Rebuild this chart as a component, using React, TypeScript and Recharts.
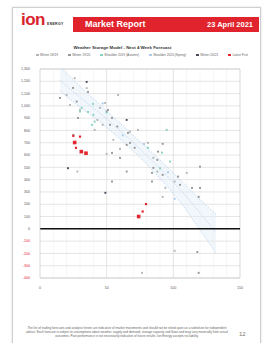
import React from "react";
import {
  ComposedChart,
  Scatter,
  Line,
  Area,
  XAxis,
  YAxis,
  CartesianGrid,
  ReferenceLine,
} from "recharts";

const FONT = "'Liberation Sans', Arial, sans-serif";

// x = weekly degree days, y = storage change (GWh)
const winter1819 = [
  { x: 26, y: 1225 }, { x: 35, y: 1144 }, { x: 20, y: 1089 }, { x: 58.5, y: 1089 },
  { x: 48.8, y: 1024 }, { x: 45, y: 984 }, { x: 22.5, y: 1008 }, { x: 30, y: 967 },
  { x: 43, y: 886 }, { x: 47, y: 846 }, { x: 67.5, y: 791 }, { x: 41, y: 805 },
  { x: 73.5, y: 805 }, { x: 55, y: 724 }, { x: 81, y: 699 }, { x: 60, y: 650 },
  { x: 50, y: 610 }, { x: 85, y: 577 }, { x: 28, y: 466 }, { x: 88, y: 466 },
  { x: 110, y: 455 }, { x: 101, y: 385 }, { x: 94, y: 333 }, { x: 92, y: 260 },
  { x: 101, y: -179 }, { x: 76.5, y: -358 },
];
const winter1920 = [
  { x: 24.8, y: 1146 }, { x: 15, y: 1065 }, { x: 36, y: 1114 }, { x: 27.5, y: 1035 },
  { x: 51, y: 967 }, { x: 50, y: 954 }, { x: 28.5, y: 902 }, { x: 54, y: 902 },
  { x: 25, y: 764 }, { x: 52.5, y: 846 }, { x: 58, y: 832 }, { x: 66, y: 780 },
  { x: 67.5, y: 699 }, { x: 65, y: 683 }, { x: 92, y: 691 }, { x: 71, y: 659 },
  { x: 88.5, y: 628 }, { x: 54, y: 618 }, { x: 60, y: 577 }, { x: 88, y: 561 },
  { x: 65, y: 466 }, { x: 85, y: 496 }, { x: 84, y: 455 }, { x: 92, y: 439 },
  { x: 120, y: 506 }, { x: 103.5, y: 425 }, { x: 54, y: 385 }, { x: 84, y: 385 },
  { x: 105, y: 358 }, { x: 114, y: 333 }, { x: 120, y: 333 }, { x: 119, y: 260 },
  { x: 118, y: -189 }, { x: 119, y: -358 },
];
const shoulder2019 = [
  { x: 39.8, y: 1016 }, { x: 31.3, y: 984 }, { x: 36, y: 951 }, { x: 40, y: 927 },
  { x: 30, y: 954 }, { x: 50, y: 946 }, { x: 41, y: 872 }, { x: 39, y: 846 },
  { x: 95, y: 805 }, { x: 81, y: 659 }, { x: 91.5, y: 620 }, { x: 97.5, y: 547 },
  { x: 90, y: 493 },
];
const shoulder2020 = [
  { x: 47, y: 1020 }, { x: 62, y: 760 }, { x: 78, y: 690 }, { x: 101, y: 244 },
  { x: 96, y: 460 },
];
const winter2021 = [
  { x: 35, y: 1195 }, { x: 65, y: 886 }, { x: 21, y: 493 }, { x: 49, y: 293 },
];
// s = marker size (big = latest forecast weeks)
const latest = [
  { x: 25, y: 756, s: 2.2 }, { x: 30, y: 750, s: 2.2 }, { x: 27, y: 659, s: 2.2 },
  { x: 79.5, y: 201, s: 2.2 }, { x: 77, y: 141, s: 2.2 },
  { x: 26, y: 702, s: 3.6 }, { x: 31, y: 628, s: 3.6 }, { x: 34.5, y: 615, s: 3.6 },
  { x: 74, y: 100, s: 3.6 },
];

const trendX = [15, 30, 45, 60, 75, 90, 105, 120, 132];
const trendUpper = [1320, 1160, 1010, 860, 710, 560, 400, 240, 120];
const trendMid = [1210, 1070, 940, 800, 650, 490, 320, 130, -30];
const trendLower = [1120, 990, 870, 730, 580, 410, 220, -10, -200];

const xTicks = [0, 50, 100, 150];
const yTicks = [
  -400, -300, -200, -100, 0, 100, 200, 300, 400, 500, 600, 700, 800, 900, 1000,
  1100, 1200, 1300,
];
const minorX = [10, 20, 30, 40, 60, 70, 80, 90, 110, 120, 130, 140];

const SERIES = [
  { name: "Winter 18/19", color: "#b5b5b5", data: winter1819 },
  { name: "Winter 19/20", color: "#959595", data: winter1920 },
  { name: "Shoulder 2019 (Autumn)", color: "#86d2c0", data: shoulder2019 },
  { name: "Shoulder 2020 (Spring)", color: "#a9cbe9", data: shoulder2020 },
  { name: "Winter 20/21", color: "#4a4a5a", data: winter2021 },
  { name: "Latest Fcst", color: "#e3262f", data: latest },
];

const trendRows = trendX.map((x, i) => ({
  x,
  upper: trendUpper[i],
  mid: trendMid[i],
  lower: trendLower[i],
  band: [trendLower[i], trendUpper[i]],
}));

function Marker(color: string) {
  return (p: any) => {
    const s = p.payload?.s ?? 1.9;
    return (
      <rect x={p.cx - s / 2} y={p.cy - s / 2} width={s} height={s} fill={color} />
    );
  };
}

function YTick(p: any) {
  const v = p.payload.value;
  const label = Math.abs(v) >= 1000 ? v.toLocaleString("en-US") : String(v);
  return (
    <text
      x={p.x - 2}
      y={p.y}
      dy={1.2}
      textAnchor="end"
      fontSize={3.6}
      fontFamily={FONT}
      fill={v < 0 ? "#e3262f" : "#595959"}
    >
      {label}
    </text>
  );
}

export default function App() {
  return (
    <div
      style={{
        position: "fixed",
        left: 0,
        top: 0,
        width: 265,
        height: 343,
        background: "#fff",
        fontFamily: FONT,
        overflow: "hidden",
      }}
    >
      <div
        style={{
          position: "absolute",
          left: 12,
          top: 7,
          width: 247,
          height: 345,
          border: "1px solid #cfcfcf",
          boxShadow: "0 0 2px rgba(0,0,0,0.15)",
        }}
      />
      {/* logo */}
      <div
        style={{
          position: "absolute",
          left: 21,
          top: 11,
          fontSize: 17,
          fontWeight: 700,
          color: "#d9232d",
          letterSpacing: -0.5,
          lineHeight: "17px",
        }}
      >
        ion
      </div>
      <div
        style={{
          position: "absolute",
          left: 47,
          top: 22,
          fontSize: 3.5,
          fontWeight: 700,
          color: "#333",
          letterSpacing: 0.3,
        }}
      >
        ENERGY
      </div>
      {/* banner */}
      <div
        style={{
          position: "absolute",
          left: 73,
          top: 17,
          width: 186,
          height: 15,
          background: "#e1232d",
          color: "#fff",
          fontWeight: 700,
        }}
      >
        <span style={{ position: "absolute", left: 12, top: 2, fontSize: 9 }}>
          Market Report
        </span>
        <span style={{ position: "absolute", right: 6, top: 3, fontSize: 7.5 }}>
          23 April 2021
        </span>
      </div>
      {/* title + legend */}
      <div
        style={{
          position: "absolute",
          left: 0,
          top: 45,
          width: 245,
          textAlign: "center",
          fontSize: 4.4,
          fontWeight: 700,
          color: "#333",
        }}
      >
        Weather Storage Model - Next 4 Week Forecast
      </div>
      <div
        style={{
          position: "absolute",
          left: 36,
          top: 53,
          width: 212,
          display: "flex",
          justifyContent: "space-between",
          fontSize: 3.2,
          color: "#666",
        }}
      >
        {SERIES.map((s) => (
          <span key={s.name} style={{ display: "flex", alignItems: "center" }}>
            <span
              style={{
                width: 2.5,
                height: 2.5,
                background: s.color,
                marginRight: 1.5,
                display: "inline-block",
              }}
            />
            {s.name}
          </span>
        ))}
      </div>
      {/* chart */}
      <div style={{ position: "absolute", left: 0, top: 60 }}>
        <ComposedChart
          width={250}
          height={230}
          margin={{ top: 9, right: 10, bottom: 2, left: 0 }}
        >
          <CartesianGrid
            horizontal={false}
            verticalValues={minorX}
            stroke="#ededed"
            strokeWidth={0.5}
          />
          <CartesianGrid
            verticalValues={[50, 100]}
            horizontalValues={yTicks}
            stroke="#d3d3d3"
            strokeWidth={0.6}
          />
          <XAxis
            type="number"
            dataKey="x"
            domain={[0, 150]}
            ticks={xTicks}
            interval={0}
            height={10}
            tick={{ fontSize: 3.6, fill: "#595959", fontFamily: FONT }}
            tickLine={false}
            axisLine={{ stroke: "#bfbfbf", strokeWidth: 0.6 }}
            allowDataOverflow
          />
          <YAxis
            type="number"
            dataKey="y"
            domain={[-400, 1300]}
            ticks={yTicks}
            interval={0}
            width={40}
            tick={<YTick />}
            tickLine={false}
            axisLine={{ stroke: "#bfbfbf", strokeWidth: 0.6 }}
            allowDataOverflow
          />
          <ReferenceLine x={150} stroke="#bfbfbf" strokeWidth={0.6} />
          <ReferenceLine y={1300} stroke="#bfbfbf" strokeWidth={0.6} />
          <Area
            data={trendRows}
            dataKey="band"
            type="monotone"
            fill="#e3eef8"
            fillOpacity={0.45}
            stroke="none"
            isAnimationActive={false}
          />
          {["upper", "mid", "lower"].map((k) => (
            <Line
              key={k}
              data={trendRows}
              dataKey={k}
              type="monotone"
              stroke="#9dc3e6"
              strokeWidth={0.6}
              strokeDasharray="1.2 1.2"
              dot={false}
              isAnimationActive={false}
            />
          ))}
          <ReferenceLine y={0} stroke="#111" strokeWidth={1.6} />
          {SERIES.map((s) => (
            <Scatter
              key={s.name}
              name={s.name}
              data={s.data}
              fill={s.color}
              shape={Marker(s.color)}
              isAnimationActive={false}
            />
          ))}
        </ComposedChart>
      </div>
      {/* footer */}
      <div
        style={{
          position: "absolute",
          left: 26,
          top: 326,
          width: 202,
          fontSize: 3.1,
          lineHeight: "4px",
          color: "#666",
          textAlign: "center",
        }}
      >
        The list of trading forecasts and analysis herein are indicative of market
        movements and should not be relied upon as a substitute for independent advice.
        Each forecast is subject to assumptions about weather, supply and demand, storage
        capacity and flows and may vary materially from actual outcomes. Past performance
        is not necessarily indicative of future results. Ion Energy accepts no liability.
      </div>
      <div
        style={{
          position: "absolute",
          left: 239,
          top: 331,
          fontSize: 6,
          color: "#777",
        }}
      >
        12
      </div>
    </div>
  );
}
